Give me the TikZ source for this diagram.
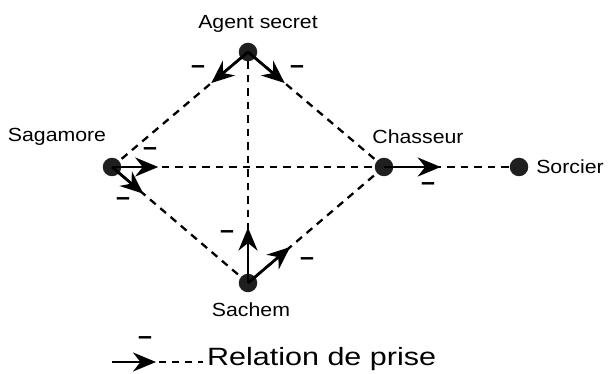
\documentclass[tikz,border=0pt]{standalone}
\usepackage{fontspec}
\setmainfont{Liberation Sans}
\usetikzlibrary{arrows.meta,calc}
\tikzset{
  dot/.style={circle,fill=black!88,inner sep=0pt,minimum size=18.5pt},
  lbl/.style={inner sep=0pt,font=\fontsize{19}{21}\selectfont},
  rel/.style={dash pattern=on 7.5pt off 6pt,line width=2.3pt},
  take/.style={line width=2.8pt,-{Stealth[length=23pt,width=19pt,inset=7.5pt]}},
  neg/.style={inner sep=0pt,font=\fontsize{25}{27}\selectfont\bfseries}
}
\begin{document}
\begin{tikzpicture}[x=1pt,y=-1pt]
\useasboundingbox (0,0) rectangle (608,374);
\node[dot] (A) at (248,52) {};
\node[dot] (G) at (112,167) {};
\node[dot] (C) at (384,167) {};
\node[dot] (S) at (519,167) {};
\node[dot] (H) at (248,283) {};
\node[lbl] at (258,24) {\scalebox{1.12}[1]{Agent secret}};
\node[lbl] at (57,137) {\scalebox{1.12}[1]{Sagamore}};
\node[lbl] at (418,137) {\scalebox{1.12}[1]{Chasseur}};
\node[lbl] at (570,167) {\scalebox{1.12}[1]{Sorcier}};
\node[lbl] at (251,310) {\scalebox{1.12}[1]{Sachem}};
% relations
\draw[rel] (A) -- (G);
\draw[rel] (A) -- (C);
\draw[rel] (A) -- (H);
\draw[rel] (G) -- (C);
\draw[rel] (G) -- (H);
\draw[rel] (H) -- (C);
\draw[rel] (C) -- (S);
% takes
\draw[take] (A.center) -- ($(A)!0.27!(G)$);
\draw[take] (A.center) -- ($(A)!0.27!(C)$);
\draw[take] (G.center) -- ($(G)!0.17!(C)$);
\draw[take] (G.center) -- ($(G)!0.23!(H)$);
\draw[take] (H.center) -- ($(H)!0.24!(A)$);
\draw[take] (H.center) -- ($(H)!0.31!(C)$);
\draw[take] (C.center) -- ($(C)!0.42!(S)$);
% minus signs
\node[neg] at (198,70) {–};
\node[neg] at (297,70) {–};
\node[neg] at (150,152) {–};
\node[neg] at (123,202) {–};
\node[neg] at (227,235) {–};
\node[neg] at (307,262) {–};
\node[neg] at (428,187) {–};
% legend
\coordinate (L0) at (112,362);
\coordinate (L1) at (156,362);
\coordinate (L2) at (203,362);
\draw[take] (L0) -- (L1);
\draw[rel,dash pattern=on 7pt off 6pt] ($(L1)+(3,0)$) -- (L2);
\node[neg] at (145,341) {–};
\node[inner sep=0pt,anchor=west,font=\fontsize{25}{27}\selectfont] (T) at (207,359) {\scalebox{1.22}[1]{Relation de prise}};
\end{tikzpicture}
\end{document}
